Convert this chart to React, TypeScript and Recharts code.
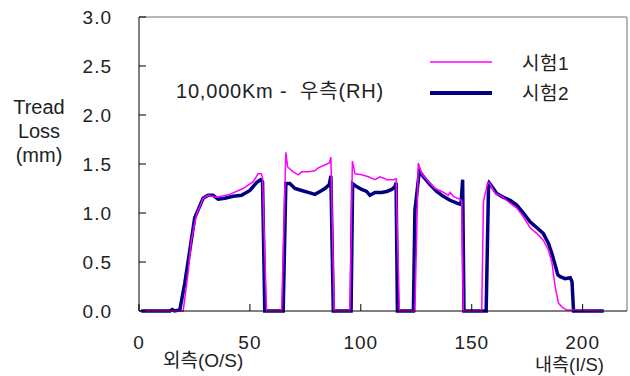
import { LineChart, Line, XAxis, YAxis, ReferenceLine, Legend } from "recharts";

// 시험1 (magenta) - position along tread and loss in mm
const test1Pos = [
  1, 19.9, 22.1, 23.6, 25.9, 28.9, 31.1, 34.9, 40.9, 46.9, 51.5, 53.7, 55.2, 55.7, 57.5,
  64.3, 66.2, 67, 69.5, 71.8, 73.3, 76.3, 79.3, 80.8, 83.8, 85.8, 86.5, 88,
  95.1, 96.2, 97.4, 100.4, 103.4, 106.4, 108.6, 110.9, 111.7, 114.7, 115.9, 117.4,
  124.4, 125.9, 127.5, 130.5, 133.5, 136.5, 139.5, 140.2, 141.7, 144.8, 145.5, 146.2,
  154.5, 155.3, 157.1, 157.8, 160.6, 163.6, 167.3, 170.3, 173.3, 176.3, 179.4, 182.3,
  184.6, 186.1, 187.6, 189.1, 190.7, 192.9, 209.5,
];
const test1Loss = [
  0, 0, 0.38, 0.72, 0.98, 1.15, 1.18, 1.16, 1.19, 1.25, 1.32, 1.4, 1.4, 1.35, 0,
  0, 1.62, 1.47, 1.42, 1.39, 1.42, 1.42, 1.43, 1.46, 1.49, 1.51, 1.57, 0,
  0, 1.53, 1.4, 1.39, 1.37, 1.34, 1.37, 1.35, 1.34, 1.34, 1.35, 0,
  0, 1.51, 1.4, 1.32, 1.25, 1.22, 1.18, 1.21, 1.17, 1.14, 1.12, 0,
  0, 1.12, 1.3, 1.31, 1.2, 1.17, 1.1, 1.05, 0.96, 0.85, 0.79, 0.72,
  0.62, 0.5, 0.25, 0.08, 0.04, 0.01, 0,
];

// 시험2 (navy)
const test2Pos = [
  1, 14, 15, 16, 18.4, 20.6, 22.9, 25.1, 26.6, 28.9, 31.1, 33.4, 35.7, 38.7, 42.4, 46.2,
  50, 53, 54.8, 55.7, 56.7,
  65, 66.2, 68, 70.3, 73.3, 76.3, 79.3, 81.6, 83.8, 85.8, 86.5, 87.6,
  95.6, 96.3, 98.1, 100.4, 102.6, 104.1, 106.4, 109.4, 111.7, 113.9, 115.4, 115.9, 116.5,
  123.7, 124.4, 126.4, 128.2, 131.2, 134.2, 137.2, 140.2, 143.3, 144.8, 145.2, 145.9, 146.5,
  156.5, 157.6, 157.8, 159.1, 161.3, 164.3, 167.3, 170.3, 173.3, 176.3, 179.4, 182.3,
  184.6, 186.1, 187.6, 188.8, 189.9, 192.1, 194.4, 195.2, 195.9, 209.5,
];
const test2Loss = [
  0, 0, 0.015, 0, 0.01, 0.28, 0.62, 0.95, 1.03, 1.15, 1.18, 1.18, 1.14, 1.15, 1.17, 1.18,
  1.23, 1.31, 1.34, 1.32, 0,
  0, 1.3, 1.3, 1.25, 1.23, 1.21, 1.19, 1.22, 1.25, 1.29, 1.38, 0,
  0, 1.3, 1.27, 1.24, 1.22, 1.18, 1.21, 1.21, 1.22, 1.24, 1.27, 1.31, 0,
  0, 1.03, 1.43, 1.37, 1.29, 1.22, 1.17, 1.13, 1.1, 1.09, 1.1, 1.34, 0,
  0, 1.3, 1.31, 1.27, 1.2, 1.16, 1.13, 1.08, 1.0, 0.91, 0.85, 0.79,
  0.69, 0.59, 0.47, 0.37, 0.35, 0.33, 0.34, 0.3, 0, 0,
];

const xTicks = [0, 50, 100, 150, 200];
const yTicks = [0, 0.5, 1, 1.5, 2, 2.5, 3];

const test1Data = test1Pos.map((x, i) => ({ x, loss: test1Loss[i] }));
const test2Data = test2Pos.map((x, i) => ({ x, loss: test2Loss[i] }));

const FONT = "'Liberation Sans', Arial, 'Noto Sans CJK KR', sans-serif";
const TEXT = "#222";

function YTick({ x, y, payload }: any) {
  return (
    <g>
      <line x1={x} x2={x + 7} y1={y} y2={y} stroke="#000" />
      <text x={x - 27} y={y} dy="0.36em" textAnchor="end" fill={TEXT} fontSize={19} letterSpacing={1}>
        {Number(payload.value).toFixed(1)}
      </text>
    </g>
  );
}

function XTick({ x, y, payload }: any) {
  return (
    <g>
      <line x1={x} x2={x} y1={y} y2={y - 7} stroke="#000" />
      <text x={x} y={y + 38} textAnchor="middle" fill={TEXT} fontSize={19} letterSpacing={1}>
        {payload.value}
      </text>
    </g>
  );
}

function LegendBox({ payload }: any) {
  const items = [...(payload || [])].sort((a, b) => String(a.value).localeCompare(String(b.value)));
  return (
    <div>
      {items.map((p: any) => (
        <div key={p.value} style={{ display: "flex", alignItems: "center", height: 30.5 }}>
          <svg width={62} height={8}>
            <line x1={0} x2={62} y1={4} y2={4} stroke={p.color} strokeWidth={p.value === "시험2" ? 4 : 1.6} />
          </svg>
          <span style={{ marginLeft: 30, fontSize: 19, color: TEXT, position: "relative", top: -1, letterSpacing: 0.5 }}>
            {p.value}
          </span>
        </div>
      ))}
    </div>
  );
}

export default function App() {
  return (
    <div style={{ position: "absolute", left: 0, top: 0, width: 630, height: 376, background: "#fff", fontFamily: FONT }}>
      <LineChart width={630} height={376} margin={{ top: 17, right: 3, bottom: 0, left: 0 }}>
        <XAxis
          type="number"
          dataKey="x"
          domain={[0, 220]}
          ticks={xTicks}
          height={65}
          tickSize={0}
          tickMargin={0}
          tickLine={false}
          axisLine={{ stroke: "#000" }}
          tick={<XTick />}
          allowDuplicatedCategory={false}
        />
        <YAxis
          type="number"
          domain={[0, 3]}
          ticks={yTicks}
          width={139}
          tickSize={0}
          tickMargin={0}
          tickLine={false}
          axisLine={{ stroke: "#000" }}
          tick={<YTick />}
        />
        <ReferenceLine y={3} stroke="#a0a0a0" strokeWidth={1.5} />
        <ReferenceLine x={220} stroke="#a0a0a0" strokeWidth={1.5} />
        <Line
          data={test2Data}
          dataKey="loss"
          name="시험2"
          type="linear"
          stroke="#000080"
          strokeWidth={3.5}
          dot={false}
          isAnimationActive={false}
        />
        <Line
          data={test1Data}
          dataKey="loss"
          name="시험1"
          type="linear"
          stroke="#ff00ff"
          strokeWidth={1.5}
          dot={false}
          isAnimationActive={false}
        />
        <Legend
          layout="vertical"
          align="center"
          verticalAlign="middle"
          wrapperStyle={{ left: 430, top: 47, width: 170 }}
          content={<LegendBox />}
        />
      </LineChart>
      <svg width={630} height={376} style={{ position: "absolute", left: 0, top: 0, pointerEvents: "none" }}>
        <g fill={TEXT} fontSize={20} textAnchor="middle">
          <text x={39} y={114}>Tread</text>
          <text x={39} y={138}>Loss</text>
          <text x={39} y={162}>(mm)</text>
        </g>
        <text x={176} y={98} fill={TEXT} fontSize={20} letterSpacing={0.8} style={{ whiteSpace: "pre" }}>
          {"10,000Km -  우측(RH)"}
        </text>
        <text x={163} y={367} fill={TEXT} fontSize={19}>외측(O/S)</text>
        <text x={535} y={371} fill={TEXT} fontSize={18.5}>내측(I/S)</text>
      </svg>
    </div>
  );
}
